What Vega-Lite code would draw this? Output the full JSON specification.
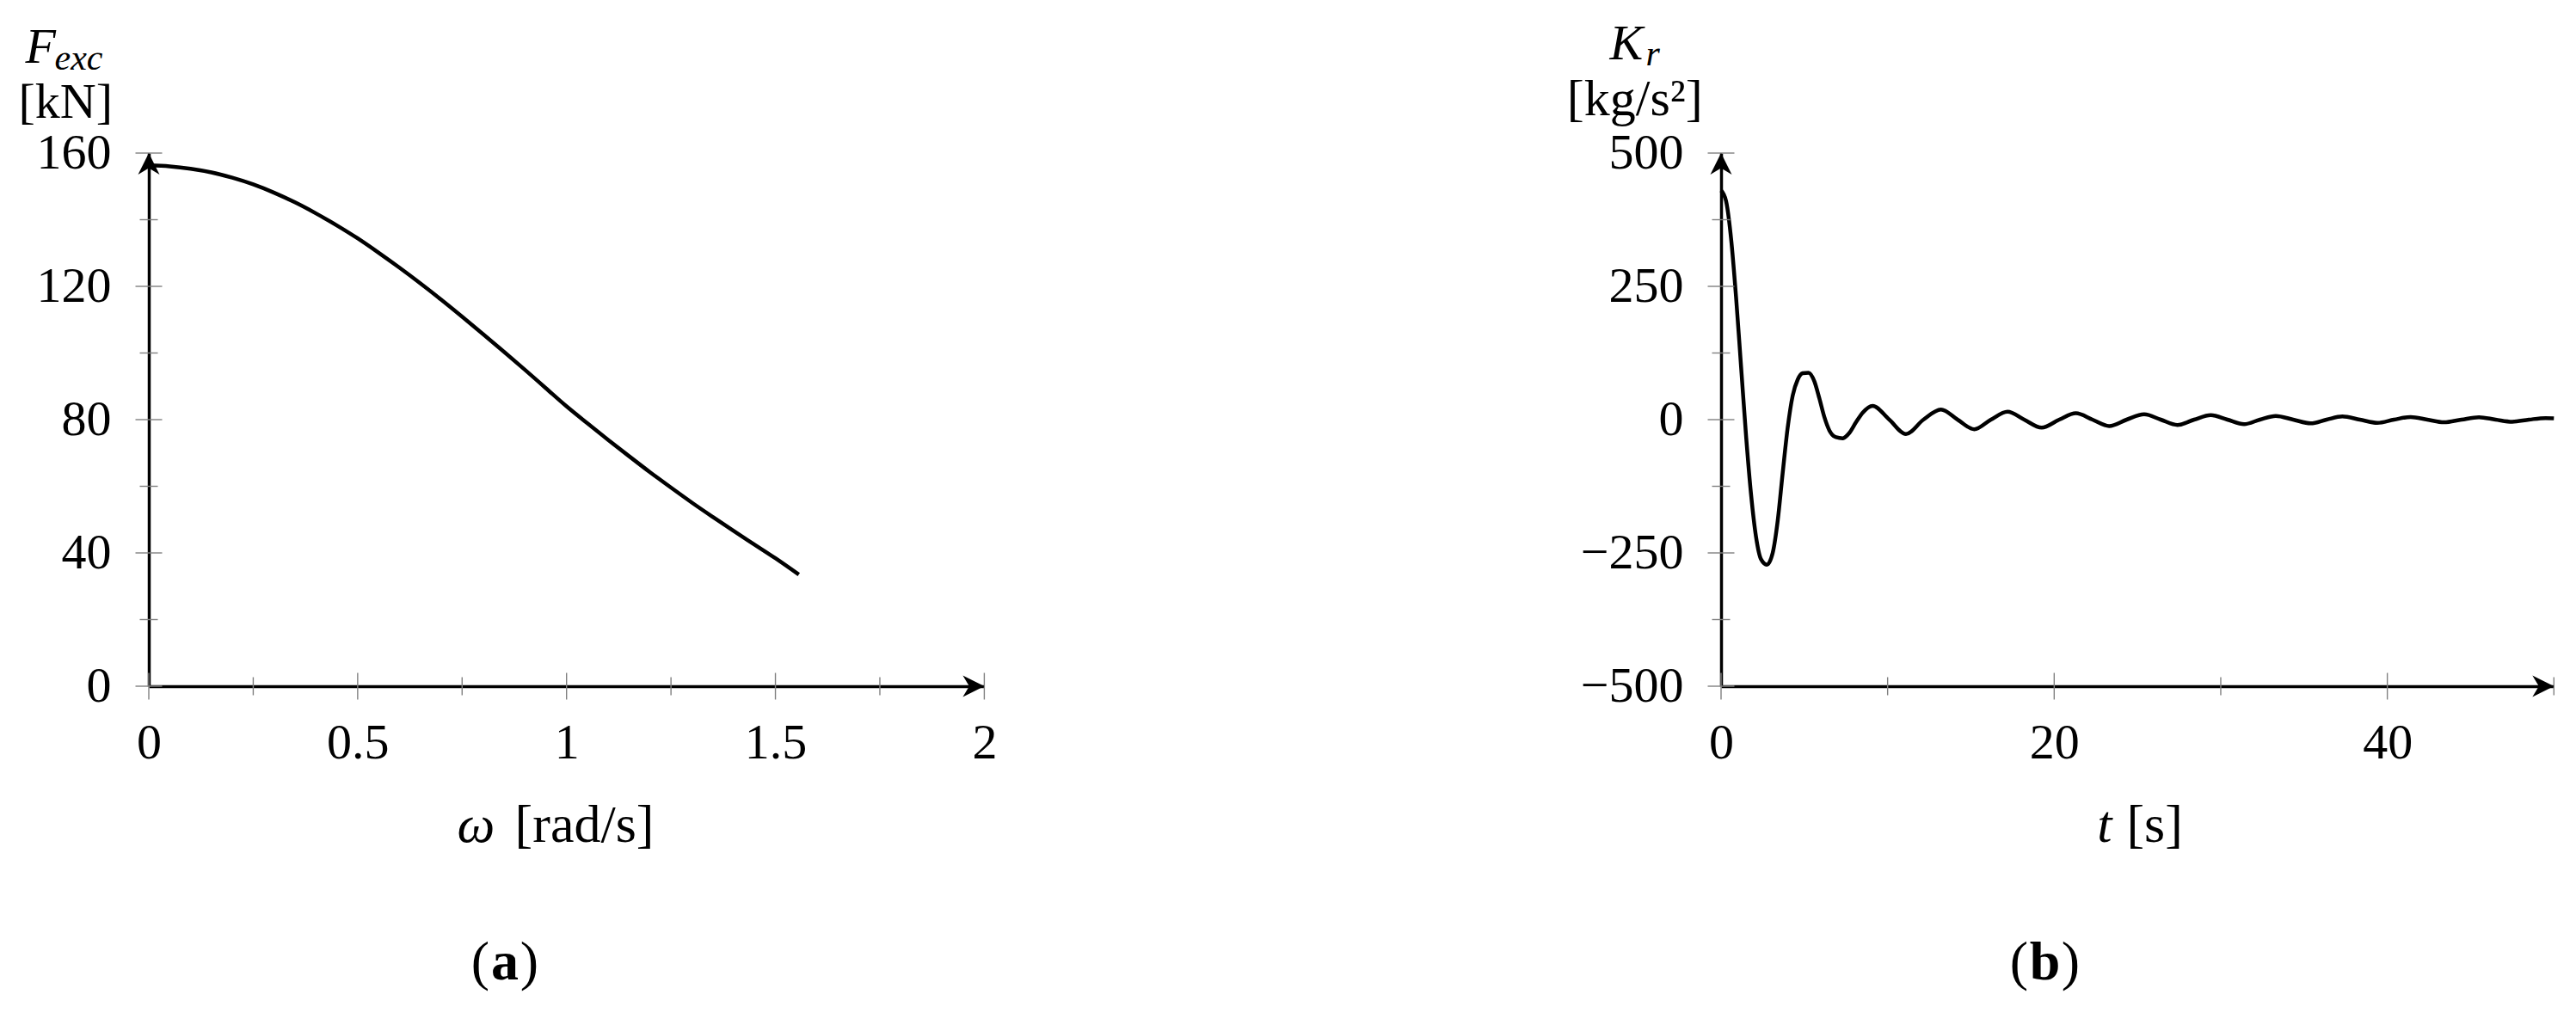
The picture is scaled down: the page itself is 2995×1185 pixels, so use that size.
{
  "$schema": "https://vega.github.io/schema/vega-lite/v6.json",
  "padding": {"left": 20, "top": 22, "right": 5, "bottom": 5},
  "background": "white",
  "config": {
    "font": "Liberation Serif",
    "view": {"stroke": null},
    "axis": {
      "labelFont": "Liberation Serif", "labelFontSize": 58, "labelColor": "black",
      "titleFont": "Liberation Serif", "titleFontSize": 58, "titleFontWeight": "normal", "titleColor": "black",
      "grid": false, "ticks": false, "domainColor": "black", "domainWidth": 3.5,
      "labelFlush": false, "labelOverlap": false, "labelBound": false, "zindex": 1,
      "labelPadding": 37, "titleAngle": 0, "titleBaseline": "alphabetic"
    },
    "axisY": {"labelPadding": 44, "labelBaseline": "middle"}
  },
  "datasets": {
    "fexc": [
      {"w": 0, "F": 156.3}, {"w": 0.05, "F": 156.0}, {"w": 0.1, "F": 155.3}, {"w": 0.15, "F": 154.2},
      {"w": 0.2, "F": 152.6}, {"w": 0.25, "F": 150.6}, {"w": 0.3, "F": 148.1}, {"w": 0.35, "F": 145.2},
      {"w": 0.4, "F": 141.9}, {"w": 0.45, "F": 138.3}, {"w": 0.5, "F": 134.4}, {"w": 0.55, "F": 130.1},
      {"w": 0.6, "F": 125.6}, {"w": 0.65, "F": 120.9}, {"w": 0.7, "F": 116.0}, {"w": 0.75, "F": 110.9},
      {"w": 0.8, "F": 105.7}, {"w": 0.85, "F": 100.4}, {"w": 0.9, "F": 95.0}, {"w": 0.95, "F": 89.5},
      {"w": 1.0, "F": 84.0}, {"w": 1.05, "F": 78.9}, {"w": 1.1, "F": 73.9}, {"w": 1.15, "F": 69.0},
      {"w": 1.2, "F": 64.2}, {"w": 1.25, "F": 59.6}, {"w": 1.3, "F": 55.1}, {"w": 1.35, "F": 50.8},
      {"w": 1.4, "F": 46.6}, {"w": 1.45, "F": 42.5}, {"w": 1.5, "F": 38.4}, {"w": 1.556, "F": 33.5}
    ],
    "kr": [
      {"t": 0, "K": 430}, {"t": 0.3, "K": 410}, {"t": 0.6, "K": 340}, {"t": 0.9, "K": 230},
      {"t": 1.2, "K": 100}, {"t": 1.5, "K": -30}, {"t": 1.8, "K": -140}, {"t": 2.1, "K": -220},
      {"t": 2.4, "K": -262}, {"t": 2.75, "K": -272}, {"t": 3.1, "K": -250}, {"t": 3.4, "K": -190},
      {"t": 3.7, "K": -100}, {"t": 4.0, "K": -15}, {"t": 4.3, "K": 45}, {"t": 4.6, "K": 75},
      {"t": 4.9, "K": 87}, {"t": 5.25, "K": 88}, {"t": 5.6, "K": 72}, {"t": 5.9, "K": 40},
      {"t": 6.2, "K": 5}, {"t": 6.5, "K": -20}, {"t": 6.9, "K": -33}, {"t": 7.3, "K": -35},
      {"t": 7.7, "K": -25}, {"t": 8.1, "K": -5}, {"t": 8.5, "K": 13}, {"t": 9.1, "K": 26},
      {"t": 10.1, "K": 0}, {"t": 11.1, "K": -27}, {"t": 12.15, "K": 0}, {"t": 13.2, "K": 19},
      {"t": 14.2, "K": 0}, {"t": 15.2, "K": -18}, {"t": 16.2, "K": 0}, {"t": 17.2, "K": 15},
      {"t": 18.2, "K": 0}, {"t": 19.25, "K": -15}, {"t": 20.3, "K": 0}, {"t": 21.3, "K": 12},
      {"t": 22.3, "K": 0}, {"t": 23.3, "K": -12}, {"t": 24.35, "K": 0}, {"t": 25.4, "K": 10},
      {"t": 26.4, "K": 0}, {"t": 27.4, "K": -10}, {"t": 28.4, "K": 0}, {"t": 29.4, "K": 8.5},
      {"t": 30.4, "K": 0}, {"t": 31.4, "K": -8.5}, {"t": 32.35, "K": 0}, {"t": 33.3, "K": 7},
      {"t": 34.35, "K": 0}, {"t": 35.4, "K": -7}, {"t": 36.35, "K": 0}, {"t": 37.3, "K": 6},
      {"t": 38.35, "K": 0}, {"t": 39.4, "K": -6}, {"t": 40.4, "K": 0}, {"t": 41.4, "K": 5},
      {"t": 42.4, "K": 0}, {"t": 43.4, "K": -5}, {"t": 44.45, "K": 0}, {"t": 45.5, "K": 4.5},
      {"t": 46.5, "K": 0}, {"t": 47.5, "K": -4}, {"t": 48.5, "K": 0}, {"t": 49.5, "K": 3},
      {"t": 50, "K": 2.5}
    ],
    "a_xmaj": [{"v": 0}, {"v": 0.5}, {"v": 1}, {"v": 1.5}, {"v": 2}],
    "a_xmin": [{"v": 0.25}, {"v": 0.75}, {"v": 1.25}, {"v": 1.75}],
    "a_ymaj": [{"v": 0}, {"v": 40}, {"v": 80}, {"v": 120}, {"v": 160}],
    "a_ymin": [{"v": 20}, {"v": 60}, {"v": 100}, {"v": 140}],
    "a_arrows": [{"ax": 2, "ay": 0, "dir": "right"}, {"ax": 0, "ay": 160, "dir": "up"}],
    "b_xmaj": [{"v": 0}, {"v": 20}, {"v": 40}],
    "b_xmin": [{"v": 10}, {"v": 30}, {"v": 50}],
    "b_ymaj": [{"v": -500}, {"v": -250}, {"v": 0}, {"v": 250}, {"v": 500}],
    "b_ymin": [{"v": -375}, {"v": -125}, {"v": 125}, {"v": 375}],
    "b_arrows": [{"ax": 50, "ay": -500, "dir": "right"}, {"ax": 0, "ay": 500, "dir": "up"}]
  },
  "hconcat": [
    {
      "width": 971.4, "height": 620,
      "resolve": {"axis": {"x": "independent", "y": "independent"}},
      "layer": [
        {
          "data": {"name": "fexc"},
          "mark": {"type": "line", "color": "black", "strokeWidth": 4.5, "interpolate": "monotone"},
          "encoding": {
            "x": {"field": "w", "type": "quantitative", "scale": {"domain": [0, 2], "nice": false, "zero": false},
                  "axis": {"orient": "bottom", "values": [0, 0.5, 1, 1.5, 2], "format": ".6~g", "title": "[rad/s]", "titleFontSize": 62, "titleX": 506, "titleY": 180, "titleAlign": "center"}},
            "y": {"field": "F", "type": "quantitative", "scale": {"domain": [0, 160], "nice": false, "zero": false},
                  "axis": {"orient": "left", "values": [0, 40, 80, 120, 160], "format": ".6~g", "title": "[kN]", "titleX": -97.3, "titleY": -42, "titleAlign": "center"}}
          }
        },
        {
          "data": {"name": "a_xmaj"},
          "mark": {"type": "tick", "orient": "vertical", "size": 31, "thickness": 1.4, "color": "#808080", "opacity": 1},
          "encoding": {
            "x": {"field": "v", "type": "quantitative", "scale": {"domain": [0, 2], "nice": false, "zero": false},
                  "axis": {"orient": "bottom", "domain": false, "labels": false, "title": "ω", "titleFontStyle": "italic", "titleFontSize": 62, "titleX": 380, "titleY": 180, "titleAlign": "center"}},
            "y": {"datum": 0, "type": "quantitative", "scale": {"domain": [0, 160], "nice": false, "zero": false},
                  "axis": {"orient": "left", "domain": false, "labels": false, "title": "F", "titleFontStyle": "italic", "titleX": -144, "titleY": -106, "titleAlign": "left"}}
          }
        },
        {
          "data": {"name": "a_xmin"},
          "mark": {"type": "tick", "orient": "vertical", "size": 21, "thickness": 1.4, "color": "#808080", "opacity": 1},
          "encoding": {
            "x": {"field": "v", "type": "quantitative", "scale": {"domain": [0, 2], "nice": false, "zero": false},
                  "axis": {"orient": "bottom", "domain": false, "labels": false, "title": "(", "titleFontSize": 64, "titleX": 385, "titleY": 340, "titleAlign": "center"}},
            "y": {"datum": 0, "type": "quantitative", "scale": {"domain": [0, 160], "nice": false, "zero": false},
                  "axis": {"orient": "left", "domain": false, "labels": false, "title": "exc", "titleFontStyle": "italic", "titleFontSize": 42, "titleX": -110, "titleY": -98, "titleAlign": "left"}}
          }
        },
        {
          "data": {"name": "a_ymaj"},
          "mark": {"type": "tick", "orient": "horizontal", "size": 31, "thickness": 1.4, "color": "#808080", "opacity": 1},
          "encoding": {
            "x": {"datum": 0, "type": "quantitative", "scale": {"domain": [0, 2], "nice": false, "zero": false},
                  "axis": {"orient": "bottom", "domain": false, "labels": false, "title": "a", "titleFontWeight": "bold", "titleFontSize": 64, "titleX": 413.5, "titleY": 340, "titleAlign": "center"}},
            "y": {"field": "v", "type": "quantitative", "scale": {"domain": [0, 160], "nice": false, "zero": false}, "axis": null}
          }
        },
        {
          "data": {"name": "a_ymin"},
          "mark": {"type": "tick", "orient": "horizontal", "size": 21, "thickness": 1.4, "color": "#808080", "opacity": 1},
          "encoding": {
            "x": {"datum": 0, "type": "quantitative", "scale": {"domain": [0, 2], "nice": false, "zero": false},
                  "axis": {"orient": "bottom", "domain": false, "labels": false, "title": ")", "titleFontSize": 64, "titleX": 442, "titleY": 340, "titleAlign": "center"}},
            "y": {"field": "v", "type": "quantitative", "scale": {"domain": [0, 160], "nice": false, "zero": false}, "axis": null}
          }
        },
        {
          "data": {"name": "a_arrows"},
          "mark": {"type": "point", "filled": true, "color": "black", "opacity": 1, "size": 2500, "strokeWidth": 0},
          "encoding": {
            "x": {"field": "ax", "type": "quantitative", "scale": {"domain": [0, 2], "nice": false, "zero": false}, "axis": null},
            "y": {"field": "ay", "type": "quantitative", "scale": {"domain": [0, 160], "nice": false, "zero": false}, "axis": null},
            "shape": {"field": "dir", "type": "nominal", "legend": null,
                      "scale": {"domain": ["right", "up"], "range": ["M0,0 L-1,-0.5 L-0.7,0 L-1,0.5 Z", "M0,0 L0.5,1 L0,0.7 L-0.5,1 Z"]}}
          }
        }
      ]
    },
    {
      "width": 968.3, "height": 620,
      "resolve": {"axis": {"x": "independent", "y": "independent"}},
      "layer": [
        {
          "data": {"name": "kr"},
          "mark": {"type": "line", "color": "black", "strokeWidth": 4.5, "interpolate": "monotone"},
          "encoding": {
            "x": {"field": "t", "type": "quantitative", "scale": {"domain": [0, 50], "nice": false, "zero": false},
                  "axis": {"orient": "bottom", "values": [0, 20, 40], "format": ".6~g", "title": "[s]", "titleFontSize": 62, "titleX": 503.6, "titleY": 180, "titleAlign": "center"}},
            "y": {"field": "K", "type": "quantitative", "scale": {"domain": [-500, 500], "nice": false, "zero": false},
                  "axis": {"orient": "left", "values": [-500, -250, 0, 250, 500], "format": ".6~g", "title": "[kg/s²]", "titleFontSize": 60, "titleX": -100.7, "titleY": -45, "titleAlign": "center"}}
          }
        },
        {
          "data": {"name": "b_xmaj"},
          "mark": {"type": "tick", "orient": "vertical", "size": 31, "thickness": 1.4, "color": "#808080", "opacity": 1},
          "encoding": {
            "x": {"field": "v", "type": "quantitative", "scale": {"domain": [0, 50], "nice": false, "zero": false},
                  "axis": {"orient": "bottom", "domain": false, "labels": false, "title": "t", "titleFontStyle": "italic", "titleFontSize": 62, "titleX": 445.3, "titleY": 180, "titleAlign": "center"}},
            "y": {"datum": -500, "type": "quantitative", "scale": {"domain": [-500, 500], "nice": false, "zero": false},
                  "axis": {"orient": "left", "domain": false, "labels": false, "title": "K", "titleFontStyle": "italic", "titleX": -130, "titleY": -110, "titleAlign": "left"}}
          }
        },
        {
          "data": {"name": "b_xmin"},
          "mark": {"type": "tick", "orient": "vertical", "size": 21, "thickness": 1.4, "color": "#808080", "opacity": 1},
          "encoding": {
            "x": {"field": "v", "type": "quantitative", "scale": {"domain": [0, 50], "nice": false, "zero": false},
                  "axis": {"orient": "bottom", "domain": false, "labels": false, "title": "(", "titleFontSize": 64, "titleX": 346, "titleY": 340, "titleAlign": "center"}},
            "y": {"datum": -500, "type": "quantitative", "scale": {"domain": [-500, 500], "nice": false, "zero": false},
                  "axis": {"orient": "left", "domain": false, "labels": false, "title": "r", "titleFontStyle": "italic", "titleFontSize": 42, "titleX": -88, "titleY": -102.5, "titleAlign": "left"}}
          }
        },
        {
          "data": {"name": "b_ymaj"},
          "mark": {"type": "tick", "orient": "horizontal", "size": 31, "thickness": 1.4, "color": "#808080", "opacity": 1},
          "encoding": {
            "x": {"datum": 0, "type": "quantitative", "scale": {"domain": [0, 50], "nice": false, "zero": false},
                  "axis": {"orient": "bottom", "domain": false, "labels": false, "title": "b", "titleFontWeight": "bold", "titleFontSize": 64, "titleX": 376.1, "titleY": 340, "titleAlign": "center"}},
            "y": {"field": "v", "type": "quantitative", "scale": {"domain": [-500, 500], "nice": false, "zero": false}, "axis": null}
          }
        },
        {
          "data": {"name": "b_ymin"},
          "mark": {"type": "tick", "orient": "horizontal", "size": 21, "thickness": 1.4, "color": "#808080", "opacity": 1},
          "encoding": {
            "x": {"datum": 0, "type": "quantitative", "scale": {"domain": [0, 50], "nice": false, "zero": false},
                  "axis": {"orient": "bottom", "domain": false, "labels": false, "title": ")", "titleFontSize": 64, "titleX": 406, "titleY": 340, "titleAlign": "center"}},
            "y": {"field": "v", "type": "quantitative", "scale": {"domain": [-500, 500], "nice": false, "zero": false}, "axis": null}
          }
        },
        {
          "data": {"name": "b_arrows"},
          "mark": {"type": "point", "filled": true, "color": "black", "opacity": 1, "size": 2500, "strokeWidth": 0},
          "encoding": {
            "x": {"field": "ax", "type": "quantitative", "scale": {"domain": [0, 50], "nice": false, "zero": false}, "axis": null},
            "y": {"field": "ay", "type": "quantitative", "scale": {"domain": [-500, 500], "nice": false, "zero": false}, "axis": null},
            "shape": {"field": "dir", "type": "nominal", "legend": null,
                      "scale": {"domain": ["right", "up"], "range": ["M0,0 L-1,-0.5 L-0.7,0 L-1,0.5 Z", "M0,0 L0.5,1 L0,0.7 L-0.5,1 Z"]}}
          }
        }
      ]
    }
  ],
  "spacing": 856,
  "bounds": "flush"
}
